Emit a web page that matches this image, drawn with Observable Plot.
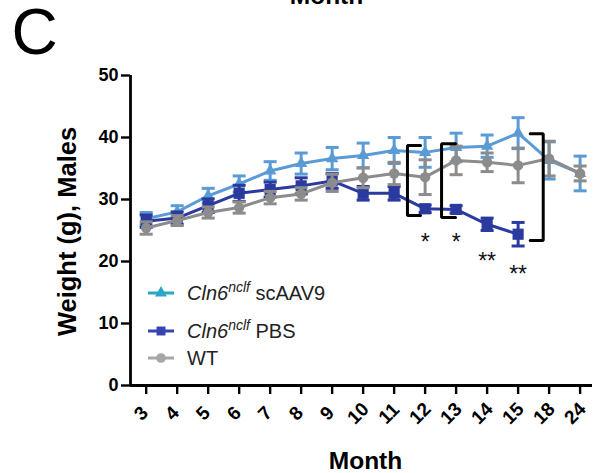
<!DOCTYPE html>
<html><head><meta charset="utf-8">
<script src="https://cdn.jsdelivr.net/npm/d3@7"></script>
<script src="https://cdn.jsdelivr.net/npm/@observablehq/plot@0.6"></script>
<style>
body{margin:0;background:#fff;font-family:"Liberation Sans",Arial,sans-serif;}
#wrap{position:relative;width:596px;height:473px;overflow:hidden;}
.lg{position:absolute;height:24px;display:flex;align-items:center;font-size:20px;line-height:24px;color:#222;white-space:nowrap;}
.lg sup{font-size:14px;line-height:0;vertical-align:0.55em;}
</style></head><body><div id="wrap"></div>
<script>
// ---- data ----
const months = ["3","4","5","6","7","8","9","10","11","12","13","14","15","18","24"];
const aavMean = [26.9, 28.0, 30.6, 32.5, 34.6, 35.8, 36.6, 37.1, 37.9, 37.6, 38.4, 38.6, 40.7, 36.3, 34.2];
const aavSem  = [1.0, 1.0, 1.2, 1.3, 1.5, 1.7, 1.8, 2.0, 2.1, 2.4, 2.3, 1.8, 2.5, 3.0, 2.8];
const pbsMean = [26.5, 27.0, 29.0, 31.0, 31.6, 32.2, 33.0, 31.0, 31.0, 28.5, 28.4, 26.0, 24.4];
const pbsSem  = [1.0, 1.0, 1.1, 1.3, 1.2, 1.3, 1.2, 1.1, 1.1, 0.6, 0.6, 1.0, 1.9];
const wtMean  = [25.4, 26.6, 27.9, 28.7, 30.3, 30.9, 32.7, 33.5, 34.2, 33.6, 36.3, 36.0, 35.5, 36.6, 34.2];
const wtSem   = [1.0, 0.8, 0.9, 0.9, 1.0, 1.0, 1.4, 1.6, 1.8, 2.8, 2.3, 1.5, 2.8, 2.8, 1.2];
const yTicks  = [0, 10, 20, 30, 40, 50];
const seriesNames = ["scAAV9", "PBS", "WT"];
const geneName = "Cln6", alleleName = "nclf";
// significance brackets (month index positions) and stars
const bracketX   = [8.43, 9.53, 12.81];
const bracketTip = [8.85, 9.98, 12.39];
const bracketLo  = [27.4, 27.1, 23.4];
const bracketHi  = [38.7, 39.0, 40.6];
const starIdx  = [9, 10, 11, 12];
const starY    = [24.0, 24.0, 21.0, 18.9];
const starText = ["*", "*", "**", "**"];

// ---- build ----
const lineColors = {scAAV9:"#5B9BD5", PBS:"#2B3A9E", WT:"#8C8C8C"};
const legendColors = {scAAV9:"#2AA6C8", PBS:"#3444B0", WT:"#A6A6A6"};
const symbols = {scAAV9:"triangle", PBS:"square", WT:"circle"};
const radii = {scAAV9:4.6, PBS:6.3, WT:5.2};
const means = {scAAV9:aavMean, PBS:pbsMean, WT:wtMean};
const sems = {scAAV9:aavSem, PBS:pbsSem, WT:wtSem};
const rows = [];
for (const s of seriesNames) means[s].forEach((m, i) => rows.push({s, i, m, e: sems[s][i]}));
const cap = 0.21;
const idx = months.map((_, i) => i);
const xMin = -0.506, xMax = 14.4;

const bracketPts = [];
bracketX.forEach((bx, k) => {
  bracketPts.push({k, x: bracketTip[k], y: bracketHi[k]}, {k, x: bx, y: bracketHi[k]},
                  {k, x: bx, y: bracketLo[k]}, {k, x: bracketTip[k], y: bracketLo[k]});
});
const stars = starIdx.map((x, k) => ({x, y: starY[k], t: starText[k]}));

const seriesMarks = s => {
  const d = rows.filter(r => r.s === s);
  const c = lineColors[s];
  return [
    Plot.ruleX(d, {x: "i", y1: r => r.m - r.e, y2: r => r.m + r.e, stroke: c, strokeWidth: 3}),
    Plot.link(d, {x1: r => r.i - cap, x2: r => r.i + cap, y1: r => r.m + r.e, y2: r => r.m + r.e, stroke: c, strokeWidth: 3}),
    Plot.link(d, {x1: r => r.i - cap, x2: r => r.i + cap, y1: r => r.m - r.e, y2: r => r.m - r.e, stroke: c, strokeWidth: 3}),
    Plot.line(d, {x: "i", y: "m", stroke: c, strokeWidth: 3}),
    Plot.dot(d, {x: "i", y: "m", symbol: symbols[s], r: radii[s], fill: c, stroke: "none"})
  ];
};

const chart = Plot.plot({
  width: 596, height: 473,
  marginLeft: 130, marginRight: 4, marginTop: 75, marginBottom: 88,
  x: {type: "linear", domain: [xMin, xMax], axis: null},
  y: {domain: [0, 50], axis: null},
  style: {fontFamily: "Liberation Sans, Arial, sans-serif", background: "#fff", color: "#000", overflow: "visible"},
  marks: [
    Plot.axisY({ticks: yTicks, tickSize: 9, tickPadding: 3, fontSize: 18, fontWeight: "bold", strokeWidth: 2.4, label: null, fill: "#000"}),
    Plot.axisX({ticks: idx, tickSize: 9, tickFormat: () => "", strokeWidth: 2.4, label: null}),
    Plot.text(idx, {x: d => d, y: () => 0, text: d => months[d], dx: -5, dy: 28, rotate: -45, fontSize: 19, fontWeight: "bold", textAnchor: "middle", lineAnchor: "middle", fill: "#000"}),
    Plot.ruleX([xMin], {y1: 0, y2: 50, strokeWidth: 2.8, stroke: "#000"}),
    Plot.ruleY([0], {x1: xMin, x2: xMax, strokeWidth: 2.8, stroke: "#000"}),
    ...seriesNames.flatMap(seriesMarks),
    Plot.line(bracketPts, {x: "x", y: "y", z: "k", stroke: "#000", strokeWidth: 3, strokeLinejoin: "miter"}),
    Plot.text(stars, {x: "x", y: "y", text: "t", fontSize: 23, dy: 6, lineAnchor: "middle", fill: "#111"}),
    Plot.text(["Weight (g), Males"], {frameAnchor: "left", dx: -63, dy: 1, rotate: -90, fontSize: 25.5, fontWeight: "bold", textAnchor: "middle", lineAnchor: "middle", fill: "#000"}),
    Plot.text(["Month"], {frameAnchor: "bottom", dx: 4, dy: 76, fontSize: 24.5, fontWeight: "bold", textAnchor: "middle", lineAnchor: "middle", fill: "#000"}),
    Plot.text(["C"], {frameAnchor: "top-left", dx: -119, dy: -42, fontSize: 64, textAnchor: "start", lineAnchor: "middle", fill: "#000"}),
    Plot.text(["Month"], {frameAnchor: "top", dx: -35, dy: -72, fontSize: 24.5, fontWeight: "bold", textAnchor: "middle", lineAnchor: "bottom", fill: "#000"})
  ]
});
const wrap = document.getElementById("wrap");
wrap.appendChild(chart);

// legend
const legendCenters = [293, 331, 358];
seriesNames.forEach((s, k) => {
  const c = legendColors[s];
  const row = document.createElement("div");
  row.className = "lg";
  row.style.left = "146px";
  row.style.top = (legendCenters[k] - 12) + "px";
  const sym = d3.symbol(d3[{triangle: "symbolTriangle", square: "symbolSquare", circle: "symbolCircle"}[symbols[s]]],
                        {triangle: 62, square: 80, circle: 72}[symbols[s]])();
  row.innerHTML = `<svg width="36" height="24" style="margin-right:5px"><line x1="2" x2="28" y1="12" y2="12" stroke="${c}" stroke-width="3"/><path d="${sym}" transform="translate(15,12)" fill="${c}"/></svg>` +
    (s === "WT" ? `<span>${s}</span>` : `<span><i>${geneName}</i><sup><i>${alleleName}</i></sup> ${s}</span>`);
  wrap.appendChild(row);
});
</script></body></html>
